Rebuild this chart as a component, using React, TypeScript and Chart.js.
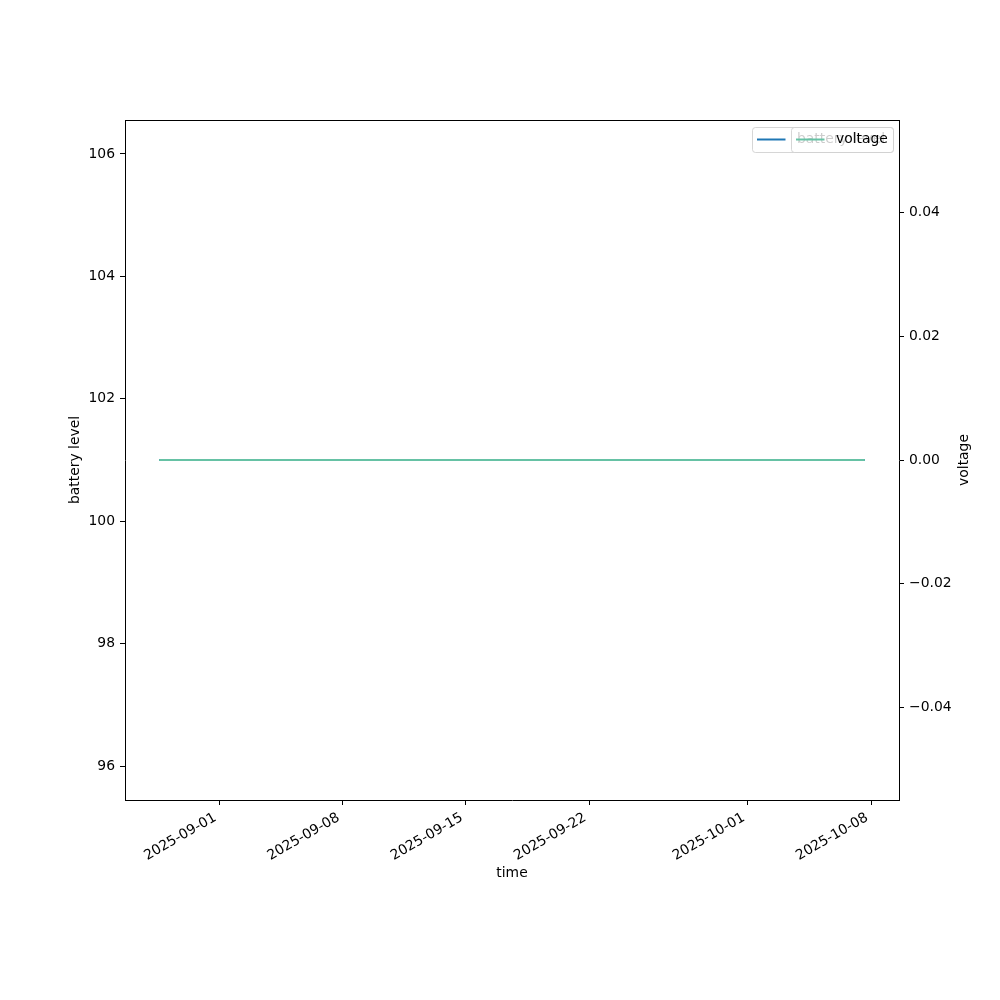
import React, { useEffect, useRef } from "react";
import { Chart, registerables } from "chart.js";

Chart.register(...registerables);

const times = ["2025-08-28T15:30:00Z", "2025-10-07T14:00:00Z"];
const batteryLevel = [101, 101];
const voltage = [0, 0];
const xTickDates = ["2025-09-01", "2025-09-08", "2025-09-15", "2025-09-22", "2025-10-01", "2025-10-08"];
const leftTicks = [96, 98, 100, 102, 104, 106];
const rightTicks = [-0.04, -0.02, 0, 0.02, 0.04];
const leftRange = [95.445, 106.555];
const rightRange = [-0.055, 0.055];

const FONT = "DejaVu Sans";
const FS = 13.9;

const ts = times.map((t) => Date.parse(t));
const xTickVals = xTickDates.map((d) => Date.parse(d + "T00:00:00Z"));

function fmtDate(v: number) {
  const d = new Date(v);
  const p = (n: number) => String(n).padStart(2, "0");
  return `${d.getUTCFullYear()}-${p(d.getUTCMonth() + 1)}-${p(d.getUTCDate())}`;
}

const overlay = {
  id: "overlay",
  afterDraw(chart: any) {
    const ctx = chart.ctx;
    const a = chart.chartArea;
    ctx.save();
    // top border
    ctx.strokeStyle = "#000";
    ctx.lineWidth = 1;
    ctx.beginPath();
    ctx.moveTo(a.left, a.top + 0.5);
    ctx.lineTo(a.right, a.top + 0.5);
    ctx.stroke();

    ctx.fillStyle = "#000";
    ctx.font = `${FS}px "${FONT}"`;
    // x tick labels (rotated, matplotlib style)
    const xs = chart.scales.x;
    const y0 = a.bottom + 9.7;
    const h = FS * 1.164;
    const ang = (30 * Math.PI) / 180;
    xTickVals.forEach((v) => {
      const txt = fmtDate(v);
      const x = xs.getPixelForValue(v);
      const w = ctx.measureText(txt).width;
      const bw = w * Math.cos(ang) + h * Math.sin(ang);
      const bh = w * Math.sin(ang) + h * Math.cos(ang);
      ctx.save();
      ctx.translate(x - bw / 2, y0 + bh / 2);
      ctx.rotate(-ang);
      ctx.textAlign = "center";
      ctx.textBaseline = "middle";
      ctx.fillText(txt, 0, 0);
      ctx.restore();
    });

    // axis titles
    ctx.textAlign = "center";
    ctx.textBaseline = "middle";
    ctx.fillText("time", (a.left + a.right) / 2, 873);
    const cy = (a.top + a.bottom) / 2;
    ctx.save();
    ctx.translate(75, cy);
    ctx.rotate(-Math.PI / 2);
    ctx.fillText("battery level", 0, 0);
    ctx.restore();
    ctx.save();
    ctx.translate(964, cy);
    ctx.rotate(-Math.PI / 2);
    ctx.fillText("voltage", 0, 0);
    ctx.restore();

    // legends
    const drawLegend = (x0: number, label: string, color: string) => {
      const x1 = 893.5;
      const top = 127.5;
      const bot = 152.5;
      ctx.beginPath();
      ctx.roundRect(x0, top, x1 - x0, bot - top, 3);
      ctx.fillStyle = "rgba(255,255,255,0.8)";
      ctx.fill();
      ctx.strokeStyle = "rgba(204,204,204,0.8)";
      ctx.lineWidth = 1;
      ctx.stroke();
      ctx.strokeStyle = color;
      ctx.lineWidth = 2;
      ctx.beginPath();
      ctx.moveTo(x0 + 4.5, 139.5);
      ctx.lineTo(x0 + 33, 139.5);
      ctx.stroke();
      ctx.fillStyle = "#000";
      ctx.textAlign = "left";
      ctx.textBaseline = "middle";
      ctx.fillText(label, x0 + 44.5, 139.5);
    };
    drawLegend(752.5, "battery level", "#1f77b4");
    drawLegend(791.5, "voltage", "#66c2a5");
    ctx.restore();
  },
};

export default function App() {
  const ref = useRef<HTMLCanvasElement>(null);
  useEffect(() => {
    if (!ref.current) return;
    const span = ts[ts.length - 1] - ts[0];
    const chart = new Chart(ref.current, {
      type: "line",
      data: {
        datasets: [
          {
            label: "battery level",
            data: ts.map((t, i) => ({ x: t, y: batteryLevel[i] })),
            borderColor: "#1f77b4",
            borderWidth: 2,
            borderCapStyle: "square",
            pointRadius: 0,
            yAxisID: "y",
            order: 1,
          },
          {
            label: "voltage",
            data: ts.map((t, i) => ({ x: t, y: voltage[i] })),
            borderColor: "#66c2a5",
            borderWidth: 2,
            borderCapStyle: "square",
            pointRadius: 0,
            yAxisID: "y2",
            order: 0,
          },
        ],
      },
      options: {
        animation: false,
        responsive: false,
        layout: { padding: { top: 120, left: 0, right: 0, bottom: 0 } },
        plugins: { legend: { display: false }, tooltip: { enabled: false } },
        scales: {
          x: {
            type: "linear",
            min: ts[0] - 0.05 * span,
            max: ts[ts.length - 1] + 0.05 * span,
            afterBuildTicks: (s: any) => {
              s.ticks = xTickVals.map((v) => ({ value: v }));
            },
            afterFit: (s: any) => {
              s.height = 200;
            },
            ticks: { display: false },
            grid: { drawOnChartArea: false, drawTicks: true, tickLength: 5, tickColor: "#000", tickWidth: 1 },
            border: { display: true, color: "#000", width: 1 },
          },
          y: {
            position: "left",
            min: leftRange[0],
            max: leftRange[1],
            afterBuildTicks: (s: any) => {
              s.ticks = leftTicks.map((v) => ({ value: v }));
            },
            afterFit: (s: any) => {
              s.width = 125;
            },
            ticks: {
              color: "#000",
              font: { family: FONT, size: FS },
              padding: 5,
              callback: (v: any) => String(v),
            },
            grid: { drawOnChartArea: false, drawTicks: true, tickLength: 5, tickColor: "#000", tickWidth: 1 },
            border: { display: true, color: "#000", width: 1 },
          },
          y2: {
            position: "right",
            min: rightRange[0],
            max: rightRange[1],
            afterBuildTicks: (s: any) => {
              s.ticks = rightTicks.map((v) => ({ value: v }));
            },
            afterFit: (s: any) => {
              s.width = 101;
            },
            ticks: {
              color: "#000",
              font: { family: FONT, size: FS },
              padding: 5,
              callback: (v: any) => {
                const n = Number(v);
                const t = Math.abs(n).toFixed(2);
                return n < -1e-9 ? "\u2212" + t : t;
              },
            },
            grid: { drawOnChartArea: false, drawTicks: true, tickLength: 5, tickColor: "#000", tickWidth: 1 },
            border: { display: true, color: "#000", width: 1 },
          },
        },
      },
      plugins: [overlay],
    } as any);
    return () => chart.destroy();
  }, []);
  return (
    <div style={{ position: "absolute", top: 0, left: 0, width: 1000, height: 1000, background: "#fff" }}>
      <canvas ref={ref} width={1000} height={1000} />
    </div>
  );
}
